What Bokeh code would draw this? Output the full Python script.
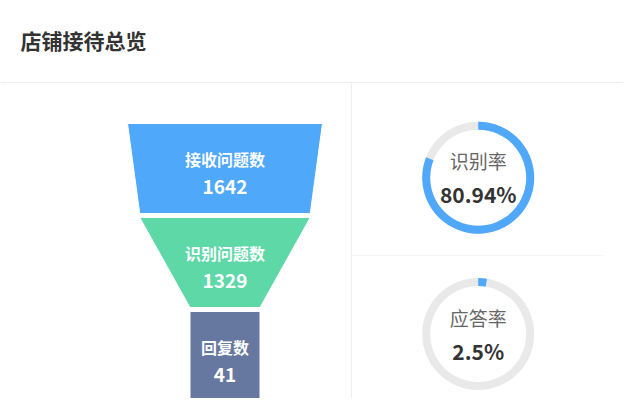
import numpy as np
from bokeh.plotting import figure
from bokeh.models import Range1d
from bokeh.core.properties import value
from bokeh.embed import file_html
from bokeh.resources import INLINE

# ---- data ----
title_text = "店铺接待总览"
stages = ["接收问题数", "识别问题数", "回复数"]
counts = [1642, 1329, 41]
stage_colors = ["#4FA8F9", "#5ED8A7", "#66789F"]
rate_names = ["识别率", "应答率"]
rates = [0.8094, 0.025]
rate_labels = ["80.94%", "2.5%"]

# ---- layout ----
W, H = 623, 398
FONT = "Noto Sans CJK SC"


def Y(py):
    return H - py


p = figure(width=W, height=H, x_range=Range1d(0, W), y_range=Range1d(0, H),
           output_backend="svg", toolbar_location=None, min_border=0)
p.axis.visible = False
p.grid.visible = False
p.outline_line_color = None
p.background_fill_color = "white"
p.border_fill_color = "white"

# separators
p.segment(x0=[0, 351, 352], y0=[Y(82), Y(82), Y(255)], x1=[W, 351, 603], y1=[Y(82), Y(H), Y(255)],
          line_color=["#EFEFEF", "#EFEFEF", "#F5F5F5"], line_width=1)

# title
p.text(x=[20], y=[Y(39)], text=[title_text], text_font=value(FONT), text_font_size="21px",
       text_font_style="bold", text_color="#333333", text_align="left", text_baseline="middle")

# funnel
CX, TOP, SEG, GAP, MAXW, MINW = 224.5, 123, 90, 4, 195, 70
vmin, vmax = min(counts), max(counts)


def fw(v):
    return MINW + (MAXW - MINW) * (v - vmin) / (vmax - vmin)


xs, ys, name_y, val_y = [], [], [], []
for i, v in enumerate(counts):
    wt = fw(v)
    wb = fw(counts[i + 1]) if i + 1 < len(counts) else wt
    y0 = TOP + i * (SEG + GAP)
    y1 = y0 + SEG
    xs.append([CX - wt / 2, CX + wt / 2, CX + wb / 2, CX - wb / 2])
    ys.append([Y(y0), Y(y0), Y(y1), Y(y1)])
    name_y.append(Y(y0 + 35))
    val_y.append(Y(y0 + 63.5))

p.patches(xs=xs, ys=ys, fill_color=stage_colors, line_color="white", line_width=1)
p.text(x=[CX] * len(stages), y=name_y, text=stages, text_font=value(FONT), text_font_size="16px",
       text_font_style="bold", text_color="white", text_align="center", text_baseline="middle")
p.text(x=[CX] * len(stages), y=val_y, text=[str(c) for c in counts], text_font=value(FONT),
       text_font_size="19px", text_font_style="bold", text_color="white", text_align="center",
       text_baseline="middle")

# donuts
DX = 477.7
DY = [177.2, 333.5]
R_OUT, R_IN = 56, 48
for i, r in enumerate(rates):
    cy = Y(DY[i])
    p.annulus(x=[DX], y=[cy], inner_radius=R_IN, outer_radius=R_OUT, fill_color="#E9E9E9", line_color=None)
    p.annular_wedge(x=[DX], y=[cy], inner_radius=R_IN, outer_radius=R_OUT,
                    start_angle=np.pi / 2 - 2 * np.pi * r, end_angle=np.pi / 2, direction="anticlock",
                    fill_color="#4FA8F9", line_color=None)
    p.text(x=[DX], y=[Y(DY[i] - 17)], text=[rate_names[i]], text_font=value(FONT), text_font_size="19px",
           text_color="#666666", text_align="center", text_baseline="middle")
    p.text(x=[DX], y=[Y(DY[i] + 16.5)], text=[rate_labels[i]], text_font=value(FONT), text_font_size="21px",
           text_font_style="bold", text_color="#333333", text_align="center", text_baseline="middle")

open("out.html", "w").write(file_html(p, INLINE))
